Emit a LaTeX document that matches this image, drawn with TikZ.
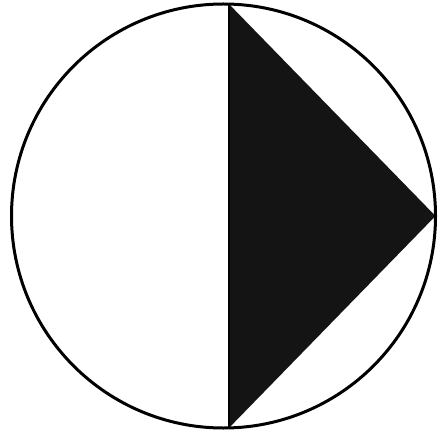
\documentclass[tikz,border=0pt]{standalone}
\begin{document}
\begin{tikzpicture}[x=1pt,y=-1pt,
  outline/.style={draw=black,line width=3pt},
  wedge/.style={fill=black!92}]
\useasboundingbox (0,0) rectangle (438,435);
\fill[white] (0,0) rectangle (438,435);
\coordinate (c) at (223.5,216);
\coordinate (top) at (229,4.1);
\coordinate (bot) at (229,427.9);
\coordinate (tip) at (435.5,216);
\fill[wedge] (top) -- (tip) -- (bot) -- cycle;
\draw[outline] (c) circle[radius=212];
\draw[outline,line width=2.5pt] (top) -- (bot);
\end{tikzpicture}
\end{document}
